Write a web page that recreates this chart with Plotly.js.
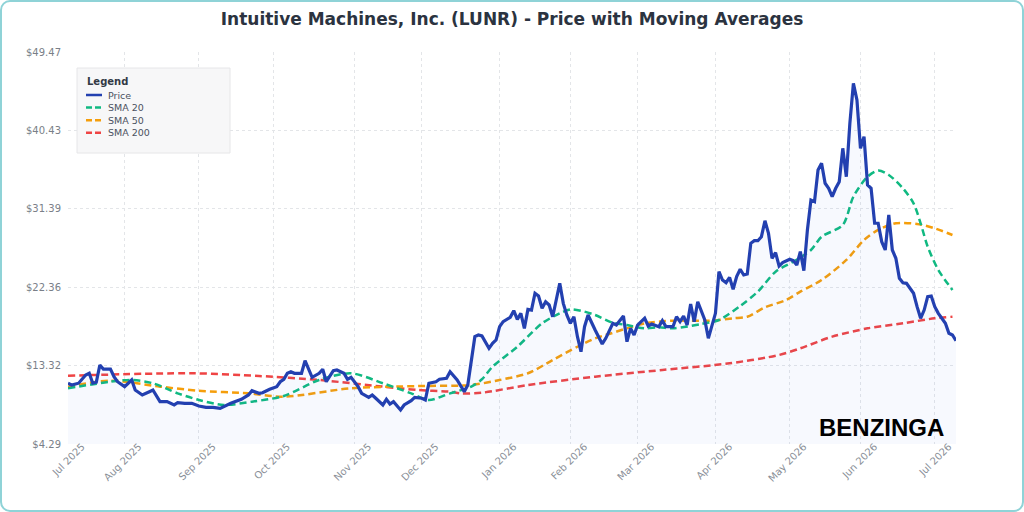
<!DOCTYPE html>
<html>
<head>
<meta charset="utf-8">
<script src="https://cdn.plot.ly/plotly-3.0.1.min.js"></script>
<style>
  html, body {
    margin: 0;
    padding: 0;
    background: #ffffff;
  }

  #card {
    position: relative;
    width: 1024px;
    height: 512px;
    box-sizing: border-box;
    border: 2px solid #8fd3d7;
    border-radius: 10px;
    overflow: hidden;
  }

  #plot {
    position: absolute;
    left: -2px;
    top: -2px;
    width: 1024px;
    height: 512px;
  }
</style>
</head>
<body>
<div id="card"><div id="plot"></div></div>
<script>
// trading day index of each price reading (0 = first session shown)
//
const priceDay = [0, 1, 3, 5, 6, 7, 8, 9, 10, 12,
  13, 14, 16, 18, 19, 21, 23, 24, 26, 28,
  30, 31, 33, 35, 37, 39, 41, 43, 46, 49,
  51, 52, 54, 55, 57, 59, 60, 61, 62, 63,
  64, 66, 67, 68, 69, 71, 72, 73, 75, 76,
  78, 79, 80, 82, 83, 85, 86, 87, 89, 90,
  91, 92, 94, 95, 97, 98, 100, 101, 102, 104,
  105, 107, 108, 110, 111, 112, 113, 115, 116, 117,
  119, 120, 121, 122, 123, 125, 126, 127, 128, 129,
  130, 131, 132, 133, 134, 135, 136, 137, 138, 139,
  140, 141, 142, 143, 144, 145, 146, 147, 149, 150,
  151, 152, 153, 154, 155, 156, 157, 158, 159, 160,
  161, 162, 163, 164, 165, 167, 168, 169, 171, 172,
  173, 174, 175, 176, 177, 178, 180, 181, 183, 184,
  185, 186, 187, 188, 189, 190, 191, 192, 193, 194,
  195, 196, 197, 198, 199, 200, 201, 202, 204, 205,
  206, 207, 208, 209, 210, 211, 212, 213, 214, 215,
  216, 217, 218, 219, 220, 221, 222, 223, 224, 225,
  226, 227, 228, 229, 230, 231, 232, 233, 234, 235,
  236, 237, 239, 240, 241, 242, 243, 244, 245, 246,
  248, 249, 250, 251];

const priceValue = [11.29, 11.09, 11.30, 12.24, 12.44, 11.30, 11.40, 13.40, 12.93, 12.93,
  12.05, 11.47, 10.90, 11.67, 10.51, 9.94, 10.32, 10.51, 9.17, 9.17,
  8.79, 9.05, 8.98, 8.98, 8.67, 8.52, 8.52, 8.40, 8.98, 9.44,
  9.94, 10.43, 10.13, 10.20, 10.60, 10.90, 11.47, 11.75, 12.44, 12.62,
  12.44, 12.44, 13.89, 13.00, 11.98, 12.44, 12.90, 11.47, 12.74, 12.82,
  12.44, 11.75, 11.98, 10.90, 10.13, 9.67, 9.94, 9.56, 8.79, 9.44,
  8.90, 9.17, 8.21, 8.79, 9.28, 9.67, 9.56, 9.36, 11.29, 11.47,
  11.75, 11.86, 12.62, 11.67, 10.90, 10.32, 11.09, 16.66, 16.85, 16.74,
  15.32, 15.90, 16.28, 17.81, 18.39, 18.89, 19.65, 18.66, 19.35, 17.62,
  19.80, 19.73, 21.66, 21.35, 19.93, 20.69, 20.31, 18.96, 20.89, 22.81,
  20.50, 19.16, 18.20, 18.96, 16.66, 14.93, 17.81, 19.16, 17.43, 16.66,
  15.82, 16.47, 17.43, 18.20, 18.00, 18.58, 19.04, 16.08, 17.62, 16.85,
  18.00, 18.39, 18.78, 17.89, 18.12, 17.81, 18.50, 17.81, 17.81, 18.96,
  18.39, 19.04, 18.00, 20.43, 18.39, 20.69, 18.58, 16.47, 19.35, 24.15,
  23.19, 22.89, 23.50, 22.12, 23.58, 24.43, 23.77, 23.88, 27.42, 27.72,
  27.72, 28.18, 30.02, 28.57, 25.69, 26.34, 24.80, 25.19, 25.58, 25.42,
  24.92, 26.46, 24.27, 28.96, 32.41, 32.22, 35.87, 36.64, 34.34, 33.76,
  32.80, 33.76, 34.52, 38.37, 35.10, 41.25, 45.86, 43.94, 38.37, 39.71,
  34.14, 33.76, 29.73, 29.73, 27.61, 26.65, 30.68, 26.65, 25.69, 23.39,
  22.88, 22.81, 21.66, 20.12, 18.78, 19.73, 21.27, 21.35, 20.12, 19.35,
  18.20, 17.05, 16.85, 16.20];

// moving averages, read at fewer points
//
const sma20Day = [0, 12, 18, 24, 31, 37, 44, 52, 61, 71,
  80, 89, 97, 102, 108, 114, 117, 120, 127, 134,
  139, 142, 145, 149, 154, 158, 163, 167, 171, 179,
  184, 190, 195, 200, 205, 210, 213, 219, 222, 226,
  229, 232, 236, 239, 241, 243, 246, 250];
const sma20Value = [10.71, 11.47, 11.67, 11.29, 10.13, 9.36, 8.79, 9.17, 9.82, 11.67,
  12.44, 11.29, 10.13, 9.36, 10.13, 10.90, 11.75, 13.20, 15.50, 18.20,
  19.35, 19.80, 19.65, 19.16, 18.27, 18.00, 17.62, 17.74, 17.62, 18.12,
  18.58, 20.20, 21.85, 24.15, 25.30, 26.65, 28.18, 29.53, 32.80, 35.10,
  35.80, 35.30, 33.76, 32.03, 29.73, 27.03, 24.35, 22.04];

const sma50Day = [0, 12, 26, 37, 51, 61, 80, 99, 114, 122,
  130, 137, 144, 149, 152, 158, 163, 171, 181, 188,
  192, 197, 203, 207, 213, 220, 225, 229, 234, 240,
  245, 250];
const sma50Value = [10.90, 11.59, 10.90, 10.43, 10.13, 9.74, 10.71, 10.97, 11.09, 11.67,
  12.44, 13.97, 15.50, 16.47, 16.85, 17.62, 18.20, 18.50, 18.50, 18.78,
  18.96, 20.04, 20.89, 21.85, 23.19, 25.50, 27.80, 28.96, 29.73, 29.65,
  29.15, 28.38];

const sma200Day = [0, 35, 54, 71, 89, 99, 108, 111, 117, 130,
  149, 168, 187, 201, 207, 216, 226, 236, 245, 250];
const sma200Value = [12.16, 12.44, 12.13, 11.67, 10.90, 10.51, 10.32, 10.13, 10.20, 11.09,
  12.05, 12.82, 13.59, 14.55, 15.32, 16.66, 17.62, 18.20, 18.78, 18.96];

// axis ticks
//
const monthTickDay = [0, 16, 37, 58, 81, 100, 122, 142, 161, 183, 204, 224, 245];
const monthTickLabel = ['Jul 2025', 'Aug 2025', 'Sep 2025', 'Oct 2025', 'Nov 2025',
  'Dec 2025', 'Jan 2026', 'Feb 2026', 'Mar 2026', 'Apr 2026', 'May 2026',
  'Jun 2026', 'Jul 2026'];
const priceTick = [4.29, 13.32, 22.36, 31.39, 40.43, 49.47];

// plot area in pixels, used to place the legend box
//
const area = { left: 68, right: 956, top: 52, bottom: 444 };
const px = (x) => (x - area.left) / (area.right - area.left);
const py = (y) => (area.bottom - y) / (area.bottom - area.top);

const FONT = 'DejaVu Sans, sans-serif';

// build traces
//
const series = [
  { name: 'SMA 200', x: sma200Day, y: sma200Value, color: '#ef4444' },
  { name: 'SMA 50', x: sma50Day, y: sma50Value, color: '#f59e0b' },
  { name: 'SMA 20', x: sma20Day, y: sma20Value, color: '#10b981' }
];

let traces = [];
for (let i = 0; i < series.length; i++) {
  traces.push({
    x: series[i].x,
    y: series[i].y,
    type: 'scatter',
    mode: 'lines',
    name: series[i].name,
    line: { color: series[i].color, width: 2.5, dash: '7px,4px', shape: 'spline', smoothing: 0.8 },
    hoverinfo: 'none'
  });
}

traces.push({
  x: priceDay,
  y: priceValue,
  type: 'scatter',
  mode: 'lines',
  name: 'Price',
  fill: 'tozeroy',
  fillcolor: 'rgba(59,110,230,0.045)',
  line: { color: '#2340b0', width: 3.2 },
  hoverinfo: 'none'
});

// hand made legend so the rows stay tight like the original
//
const legendRows = [
  { name: 'Price', color: '#2340b0', dash: 'solid' },
  { name: 'SMA 20', color: '#10b981', dash: '6px,3px' },
  { name: 'SMA 50', color: '#f59e0b', dash: '6px,3px' },
  { name: 'SMA 200', color: '#ef4444', dash: '6px,3px' }
];

let shapes = [{
  type: 'rect', xref: 'paper', yref: 'paper',
  x0: px(77), x1: px(230), y0: py(153), y1: py(68),
  fillcolor: '#f7f7f8', line: { color: '#e6e6e8', width: 1 }, layer: 'above'
}];
let annotations = [{
  xref: 'paper', yref: 'paper', x: px(85), y: py(81),
  xanchor: 'left', yanchor: 'middle', showarrow: false,
  text: '<b>Legend</b>', font: { family: FONT, size: 10, color: '#333a45' }
}];
for (let i = 0; i < legendRows.length; i++) {
  const yy = 95 + i * 12.6;
  shapes.push({
    type: 'line', xref: 'paper', yref: 'paper',
    x0: px(86), x1: px(102), y0: py(yy), y1: py(yy),
    line: { color: legendRows[i].color, width: 2.5, dash: legendRows[i].dash }, layer: 'above'
  });
  annotations.push({
    xref: 'paper', yref: 'paper', x: px(106), y: py(yy),
    xanchor: 'left', yanchor: 'middle', showarrow: false,
    text: legendRows[i].name, font: { family: FONT, size: 9.5, color: '#4b5260' }
  });
}

// watermark
//
annotations.push({
  xref: 'paper', yref: 'paper', x: px(881), y: py(427),
  xanchor: 'center', yanchor: 'middle', showarrow: false,
  text: '<b>BENZINGA</b>', font: { family: 'Liberation Sans, Arial, sans-serif', size: 24, color: '#000000' }
});

const layout = {
  width: 1024,
  height: 512,
  margin: { l: area.left, r: 1024 - area.right, t: area.top, b: 512 - area.bottom },
  paper_bgcolor: 'rgba(0,0,0,0)',
  plot_bgcolor: '#ffffff',
  showlegend: false,
  font: { family: FONT, color: '#7a7f88' },
  title: {
    text: '<b>Intuitive Machines, Inc. (LUNR) - Price with Moving Averages</b>',
    x: 0.5, xref: 'container', y: 1 - 19 / 512, yref: 'container',
    xanchor: 'center', yanchor: 'middle',
    font: { family: FONT, size: 17, color: '#2b3340' }
  },
  xaxis: {
    range: [0, 251],
    tickmode: 'array',
    tickvals: monthTickDay,
    ticktext: monthTickLabel,
    tickangle: -45,
    tickfont: { family: FONT, size: 10, color: '#8a8f98' },
    ticklabelshift: 14,
    ticklabelstandoff: -6,
    showgrid: true,
    gridcolor: '#e3e5e8',
    griddash: 'dot',
    zeroline: false,
    showline: false,
    ticks: ''
  },
  yaxis: {
    range: [priceTick[0], priceTick[priceTick.length - 1]],
    tickmode: 'array',
    tickvals: priceTick,
    ticktext: priceTick.map((v) => '$' + v.toFixed(2)),
    tickfont: { family: FONT, size: 10, color: '#7a7f88' },
    ticklabelstandoff: 6,
    showgrid: true,
    gridcolor: '#e3e5e8',
    griddash: 'dot',
    zeroline: false,
    showline: false,
    ticks: ''
  },
  shapes: shapes,
  annotations: annotations
};

Plotly.newPlot('plot', traces, layout, { staticPlot: true, displayModeBar: false });
</script>
</body>
</html>
